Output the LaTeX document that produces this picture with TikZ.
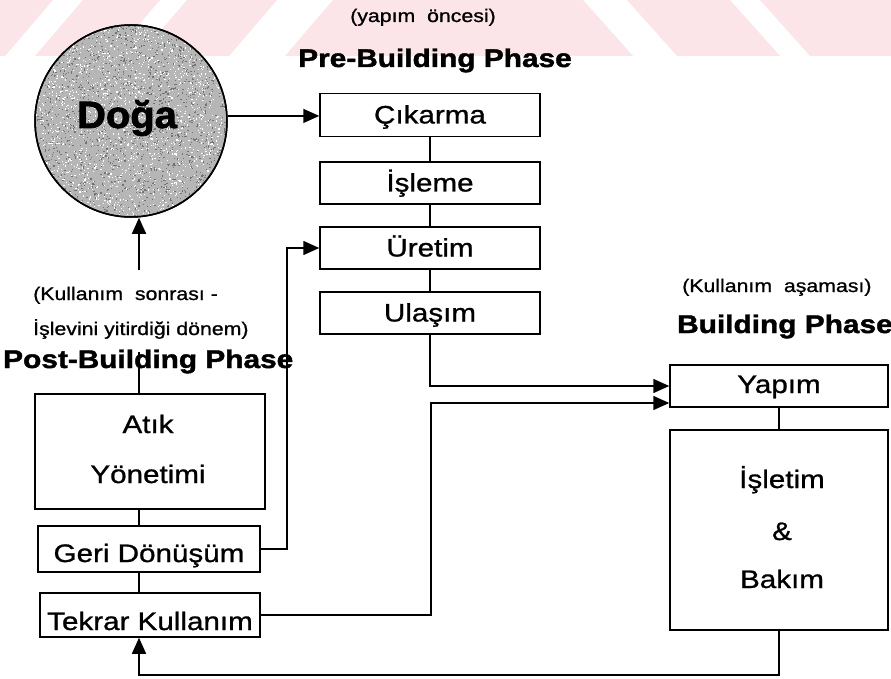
\documentclass[tikz,border=0pt]{standalone}
\usepackage{fontspec}
\setmainfont{Liberation Sans}[FakeStretch=1.17, FakeBold=1.0]
\newfontfamily\boldf{Liberation Sans}[FakeStretch=1.17, FakeBold=1.6]
\newfontfamily\dogafont{Liberation Sans}[FakeStretch=1.05, FakeBold=2.0]
\usetikzlibrary{arrows.meta}
\definecolor{wm}{RGB}{252,229,233}
\definecolor{dogafill}{RGB}{182,182,182}
\tikzset{
  conn/.style={line width=1.5pt},
  arr/.style={conn, -{Triangle[length=16pt,width=14pt]}},
  procbox/.style={draw, line width=1.5pt, inner sep=0pt, fill=white,
    font=\fontsize{25.3}{28}\selectfont, text height=17pt, text depth=0pt},
  bigtext/.style={font=\fontsize{25.3}{28}\selectfont, anchor=base, inner sep=0pt},
  headtext/.style={font=\boldf\bfseries\fontsize{25.5}{28}\selectfont, anchor=base, inner sep=0pt},
  smalltext/.style={font=\fontsize{18.2}{20}\selectfont, anchor=base, inner sep=0pt},
  wmstripe/.style={fill=wm, draw=none}
}
\begin{document}
\begin{tikzpicture}[x=1pt, y=-1pt]
\useasboundingbox (0,0) rectangle (891,679);
\fill[white] (0,0) rectangle (891,679);
% watermark stripes
\fill[wmstripe] (-48,56) -- (0,0) -- (53,0) -- (5,56) -- cycle;
\fill[wmstripe] (35,56) -- (83,0) -- (160,0) -- (112,56) -- cycle;
\fill[wmstripe] (139,56) -- (187,0) -- (277,0) -- (229,56) -- cycle;
\fill[wmstripe] (285,56) -- (333,0) -- (583,0) -- (633,56) -- cycle;
\fill[wmstripe] (627,0) -- (730,0) -- (780,56) -- (677,56) -- cycle;
\fill[wmstripe] (760,0) -- (891,0) -- (891,56) -- (810,56) -- cycle;

% Doga circle
\node[circle, draw, line width=1.5pt, fill=dogafill, minimum size=192pt, inner sep=0pt] (doga) at (131,121) {};
\begin{scope}
  \clip (131,121) circle (95pt);
  \pgfmathsetseed{4321}
  \foreach \i in {1,...,1800} {
    \fill[black!55] (131+96*rand,121+96*rand) rectangle ++(1.2,1.2);
    \fill[white] (131+96*rand,121+96*rand) rectangle ++(1.2,1.2);
  }
\end{scope}
\draw[line width=1.5pt] (131,121) circle (96pt);
\node[font=\dogafont\bfseries\fontsize{38}{40}\selectfont, anchor=base, inner sep=0pt] (dogatxt) at (127,128) {Doğa};

% headings
\node[smalltext] (preS) at (423,22) {(yapım\ \ öncesi)};
\node[headtext] (preH) at (435,67) {Pre-Building Phase};
\node[smalltext, anchor=base west] (postS1) at (33,300) {(Kullanım\ \ sonrası -};
\node[smalltext, anchor=base west] (postS2) at (33,335) {İşlevini yitirdiği dönem)};
\node[headtext, anchor=base west] (postH) at (3,368) {Post-Building Phase};
\node[smalltext, anchor=base west] (bldS) at (682,292) {(Kullanım\ \ aşaması)};
\node[headtext, anchor=base west] (bldH) at (677,333) {Building Phase};

% pre-building boxes
\node[procbox, minimum width=220pt, minimum height=43pt] (cik) at (430,115) {Çıkarma};
\node[procbox, minimum width=220pt, minimum height=42pt] (isl) at (430,183) {İşleme};
\node[procbox, minimum width=220pt, minimum height=42pt] (ure) at (430,248) {Üretim};
\node[procbox, minimum width=220pt, minimum height=42pt] (ula) at (430,313) {Ulaşım};

% building boxes
\node[procbox, minimum width=218pt, minimum height=42pt, text height=14pt] (yap) at (779,386) {Yapım};
\node[procbox, minimum width=218pt, minimum height=200pt] (ise) at (779,530) {};
\node[bigtext] (ise1) at (782,488) {İşletim};
\node[bigtext] (ise2) at (782,540) {\&};
\node[bigtext] (ise3) at (782,588) {Bakım};

% post-building boxes
\node[procbox, minimum width=230pt, minimum height=115pt] (atik) at (150,451.5) {};
\node[bigtext] (atik1) at (148,433) {Atık};
\node[bigtext] (atik2) at (148,483) {Yönetimi};
\node[procbox, minimum width=222pt, minimum height=46pt, text height=26pt] (ger) at (149,549) {Geri Dönüşüm};
\node[procbox, minimum width=220pt, minimum height=44pt, text height=30pt] (tek) at (150,615) {Tekrar Kullanım};

% helper coordinates
\coordinate (up1) at (139,270);
\coordinate (up2) at (139,352);
\coordinate (gx) at (287,0);
\coordinate (tk) at (431,403);
\coordinate (bot) at (0,675);

% connectors
\draw[arr] (doga.3.6) -- (doga.3.6 -| cik.west);
\draw[conn] (cik.south) -- (isl.north);
\draw[conn] (isl.south) -- (ure.north);
\draw[conn] (ure.south) -- (ula.north);
\draw[arr] (ula.south) |- (yap.west);
\draw[arr] (tek.east) -| (tk) -- (tk -| yap.west);
\draw[conn] (yap.south) -- (ise.north);
\draw[arr] (ise.south) -- (ise.south |- bot) -| (tek.south -| up1);
\draw[arr] (up1) -- (up1 |- doga.south);
\draw[conn] (atik.north -| up2) -- (up2);
\draw[conn] (atik.south -| up1) -- (ger.north -| up1);
\draw[conn] (ger.south -| up1) -- (tek.north -| up1);
\draw[arr] (ger.east) -| (gx |- ure.west) -- (ure.west);
\end{tikzpicture}
\end{document}
